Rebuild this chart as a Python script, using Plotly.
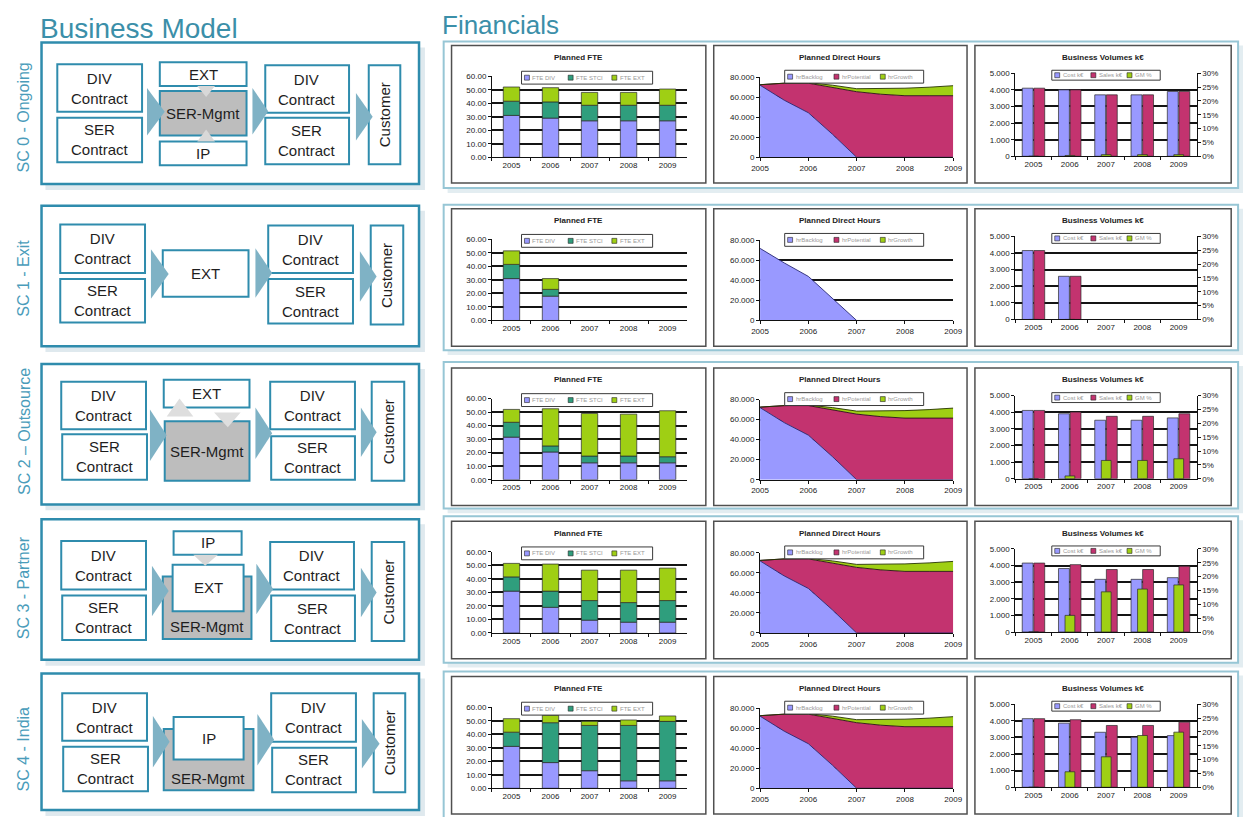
import numpy as np
import plotly.graph_objects as go

W, H = 1253, 817

# ---------------- DATA ----------------
YEARS = ['2005', '2006', '2007', '2008', '2009']
SCENARIOS = ['SC 0 - Ongoing', 'SC 1 - Exit', 'SC 2 \u2013 Outsource', 'SC 3 - Partner', 'SC 4 - India']

FTE_NAMES = ['FTE DIV', 'FTE STCI', 'FTE EXT']
FTE_DIV = [[31, 29, 27, 27, 27],
           [31, 18, None, None, None],
           [31.5, 20.5, 12.5, 12.5, 12.5],
           [31, 19, 9.5, 8, 8],
           [31, 19, 13, 5.5, 5.5]]
FTE_SER = [[10.5, 12, 11.5, 11.5, 11.5],
           [10.5, 5, None, None, None],
           [11, 4.5, 5, 5, 4.5],
           [10.5, 12, 14.5, 14.5, 16],
           [10.5, 29.5, 33.5, 41, 44]]
FTE_EXT = [[10.5, 10.5, 9.5, 9.5, 12],
           [10, 8, None, None, None],
           [9.5, 27.5, 31.5, 31, 34],
           [10, 20, 22.5, 24, 24],
           [10, 5.5, 3, 4, 4]]

HR_NAMES = ['hrBacklog', 'hrPotential', 'hrGrowth']
HR_X = [2005, 2005.5, 2006, 2006.5, 2007, 2007.5, 2008, 2008.5, 2009]
HR_BACKLOG = [72000, 57000, 44500, 23000, 0, 0, 0, 0, 0]
HR_POTENTIAL = [500, 17000, 29500, 47000, 65500, 63000, 61500, 61500, 61500]
HR_GROWTH = [0, 0, 500, 2000, 3000, 5500, 7500, 8500, 10000]
HR_BACKLOG_EXIT = [72000, 57500, 44000, 22000, 0, 0, 0, 0, 0]
HR_HAS_GROWTH = [True, False, True, True, True]

BV_NAMES = ['Cost k\u20ac', 'Sales k\u20ac', 'GM %']
COST = [[4100, 4000, 3700, 3700, 3900],
        [4150, 2600, None, None, None],
        [4110, 3910, 3520, 3520, 3660],
        [4150, 3820, 3170, 3170, 3270],
        [4130, 3860, 3310, 3010, 3110]]
SALES = [[4100, 4000, 3700, 3700, 3900],
         [4150, 2600, None, None, None],
         [4110, 4010, 3755, 3755, 3910],
         [4150, 4055, 3760, 3760, 3960],
         [4130, 4065, 3720, 3720, 3920]]
GM = [[0, 0.3, 0.6, 0.6, 0.6],
      [0, 0, None, None, None],
      [0, 1.0, 6.6, 6.6, 7.2],
      [0, 6.0, 14.5, 15.5, 17.0],
      [0, 5.6, 11.0, 18.7, 19.9]]

FTE_TICKS = [0, 10, 20, 30, 40, 50, 60]
FTE_GRID = [10, 20, 30, 40, 50]
HR_TICKS = [0, 20000, 40000, 60000, 80000]
HR_TICKTEXT = ['0', '20.000', '40.000', '60.000', '80.000']
HR_GRID = [20000, 40000, 60000]
BV_TICKS = [0, 1000, 2000, 3000, 4000, 5000]
BV_TICKTEXT = ['0', '1.000', '2.000', '3.000', '4.000', '5.000']
BV_GRID = [1000, 2000, 3000, 4000]
GM_TICKS = [0, 5, 10, 15, 20, 25, 30]
GM_TICKTEXT = ['0%', '5%', '10%', '15%', '20%', '25%', '30%']

# ---------------- STYLE ----------------
C_LAV = '#9999ff'
C_TEALG = '#2f9e7d'
C_LIME = '#9fcf14'
C_PINK = '#c3336f'
TEAL = '#2f8cad'
TITLE_C = '#3b8fa9'
ARROW_C = '#7fb2c5'
FONT = 'Liberation Sans, Arial, sans-serif'
TICK_FONT = dict(size=8, color='#1a1a1a', family=FONT)
GRID_STYLE = dict(showgrid=True, gridcolor='#141414', gridwidth=1.6, ticks='')


def px(x):
    return x / W


def py(y):
    return 1 - y / H


shapes = []
annotations = []


def rect(x0, y0, x1, y1, fill='white', lc=TEAL, lw=2, layer='above'):
    shapes.append(dict(type='rect', xref='paper', yref='paper',
                       x0=px(x0), x1=px(x1), y0=py(y1), y1=py(y0),
                       fillcolor=fill, layer=layer,
                       line=dict(color=lc, width=lw)))


def poly(pts, fill, lc=None, lw=0, layer='above'):
    d = 'M ' + ' L '.join(f'{px(a):.5f},{py(b):.5f}' for a, b in pts) + ' Z'
    shapes.append(dict(type='path', xref='paper', yref='paper', path=d,
                       fillcolor=fill, layer=layer,
                       line=dict(color=lc or fill, width=lw)))


def text(x, y, s, size=15, color='#1e1e1e', angle=0, xanchor='center', yanchor='middle'):
    annotations.append(dict(x=px(x), y=py(y), xref='paper', yref='paper', text=s,
                            showarrow=False, textangle=angle, xanchor=xanchor, yanchor=yanchor,
                            borderpad=0,
                            font=dict(size=size, color=color, family=FONT)))


def arrow(x0, y0, x1, y1):
    poly([(x0, y0), (x1, (y0 + y1) / 2), (x0, y1)], ARROW_C)


# ---------------- LEFT: BUSINESS MODEL ----------------
text(30, 25, 'Business Model', size=28, color=TITLE_C, xanchor='left')
text(438, 21, 'Financials', size=26, color=TITLE_C, xanchor='left')

LEFT_ROWS = [
    dict(outer=(33, 39, 416, 182), label_y=115,
         divl=(49, 61, 135, 109), serl=(49, 115, 135, 160),
         divr=(260, 62, 345, 110), serr=(260, 115, 345, 162), cust=(365, 62, 397, 162),
         arrows=[(140, 85, 158, 133), (247, 85, 263, 132), (352, 90, 369, 138)]),
    dict(outer=(33, 204, 416, 346), label_y=277,
         divl=(52, 223, 138, 272), serl=(52, 278, 138, 322),
         divr=(263, 224, 349, 272), serr=(263, 278, 349, 323), cust=(367, 224, 400, 324),
         arrows=[(144, 248, 162, 298), (250, 247, 267, 297), (356, 250, 373, 301)]),
    dict(outer=(33, 364, 416, 506), label_y=432,
         divl=(53, 382, 139, 430), serl=(54, 435, 140, 481),
         divr=(265, 382, 351, 430), serr=(266, 437, 351, 481), cust=(368, 382, 401, 482),
         arrows=[(143, 410, 160, 462), (250, 408, 267, 460), (357, 408, 373, 458)]),
    dict(outer=(33, 521, 416, 663), label_y=590,
         divl=(53, 543, 139, 592), serl=(54, 598, 139, 643),
         divr=(265, 544, 350, 592), serr=(266, 598, 351, 644), cust=(368, 544, 401, 644),
         arrows=[(145, 568, 162, 619), (251, 566, 268, 617), (357, 570, 373, 620)]),
    dict(outer=(33, 677, 416, 815), label_y=753,
         divl=(54, 697, 140, 745), serl=(55, 751, 141, 796),
         divr=(266, 697, 352, 746), serr=(267, 752, 352, 797), cust=(370, 697, 402, 797),
         arrows=[(146, 720, 163, 772), (252, 718, 269, 770), (358, 723, 376, 773)]),
]


def labeled_box(b, label, fill='white'):
    rect(*b, fill=fill)
    text((b[0] + b[2]) / 2, (b[1] + b[3]) / 2, label)


for i, row in enumerate(LEFT_ROWS):
    ox0, oy0, ox1, oy1 = row['outer']
    rect(ox0 + 4, oy0 + 5, ox1 + 6, oy1 + 6, fill='#dfe9ee', lc='#dfe9ee', lw=0)
    rect(ox0, oy0, ox1, oy1, fill='white', lc=TEAL, lw=2.5)
    text(15, row['label_y'], SCENARIOS[i], size=16, color='#4a9cba', angle=-90)
    labeled_box(row['divl'], 'DIV<br>Contract')
    labeled_box(row['serl'], 'SER<br>Contract')
    labeled_box(row['divr'], 'DIV<br>Contract')
    labeled_box(row['serr'], 'SER<br>Contract')
    cb = row['cust']
    rect(*cb)
    text((cb[0] + cb[2]) / 2, (cb[1] + cb[3]) / 2, 'Customer', angle=-90)

    if i == 0:
        labeled_box((153, 59, 241, 83), 'EXT')
        labeled_box((153, 88, 241, 133), 'SER-Mgmt', fill='#bdbdbd')
        labeled_box((153, 139, 241, 163), 'IP')
        poly([(191, 83), (209, 83), (200, 94)], '#d8d8d8')
        poly([(191, 139), (209, 139), (200, 127)], '#d8d8d8')
    elif i == 1:
        labeled_box((156, 249, 243, 296), 'EXT')
    elif i == 2:
        labeled_box((157, 380, 244, 408), 'EXT')
        labeled_box((158, 422, 244, 482), 'SER-Mgmt', fill='#bdbdbd')
        poly([(160, 417), (187, 417), (173, 399)], '#dedede')
        poly([(208, 413), (235, 413), (222, 428)], '#dedede')
    elif i == 3:
        rect(156, 579, 246, 642, fill='#bdbdbd')
        text(201, 629, 'SER-Mgmt')
        labeled_box((166, 567, 238, 614), 'EXT')
        labeled_box((167, 533, 236, 557), 'IP')
        poly([(187, 557), (212, 557), (199, 568)], '#d8d8d8')
    else:
        rect(157, 733, 248, 795, fill='#bdbdbd')
        text(202, 783, 'SER-Mgmt')
        labeled_box((167, 721, 238, 764), 'IP')

    for a in row['arrows']:
        arrow(*a)

# ---------------- RIGHT: FINANCIALS ----------------
ROW_FRAME = [(38, 186), (203, 350), (362, 510), (518, 666), (675, 832)]
ROW_TOP = [42, 207, 368, 523, 680]
CHART_H = 139
CHART_X = [(449, 707), (715, 972), (980, 1240)]
PLOT_X = [(490, 688), (762, 958), (1021, 1205)]
PLOT_Y = [(31, 113), (32, 113), (28, 112)]
TITLES = ['Planned FTE', 'Planned Direct Hours', 'Business Volumes k\u20ac']
LEG_X = [(71, 204), (72, 213), (78, 188)]
LEG_Y = [(26, 39), (25, 38), (25, 35)]
LEG_NAMES = [FTE_NAMES, HR_NAMES, BV_NAMES]
LEG_COLORS = [[C_LAV, C_TEALG, C_LIME], [C_LAV, C_PINK, C_LIME], [C_LAV, C_PINK, C_LIME]]

for r in range(5):
    f0, f1 = ROW_FRAME[r]
    rect(441 + 4, f0 + 4, 1247 + 5, f1 + 5, fill='#e3edf1', lc='#e3edf1', lw=0, layer='below')
    rect(441, f0, 1247, f1, fill='white', lc='#97c6d5', lw=2, layer='below')
    top = ROW_TOP[r]
    for c in range(3):
        cx0, cx1 = CHART_X[c]
        rect(cx0, top, cx1, top + CHART_H, fill='white', lc='#505050', lw=1.5, layer='below')

layout = dict(width=W, height=H, autosize=False,
              margin=dict(l=0, r=0, t=0, b=0),
              paper_bgcolor='white', plot_bgcolor='#c0c0c0',
              barmode='overlay', showlegend=False,
              font=dict(family=FONT, size=8, color='#111'))

axis_common = dict(showline=True, linecolor='#111', linewidth=1, ticks='outside', ticklen=3,
                   tickcolor='#111', tickfont=TICK_FONT,
                   zeroline=False, fixedrange=True)

traces = []
for r in range(5):
    top = ROW_TOP[r]
    for c in range(3):
        k = r * 3 + c + 1
        xname = 'xaxis' if k == 1 else f'xaxis{k}'
        yname = 'yaxis' if k == 1 else f'yaxis{k}'
        xref = 'x' if k == 1 else f'x{k}'
        yref = 'y' if k == 1 else f'y{k}'
        pl, pr = PLOT_X[c]
        pt, pb = top + PLOT_Y[c][0], top + PLOT_Y[c][1]
        xdom = [px(pl), px(pr)]
        ydom = [py(pb), py(pt)]
        xa = dict(axis_common, domain=xdom, anchor=yref, showgrid=False)
        ya = dict(axis_common, domain=ydom, anchor=xref, showgrid=False)

        if c == 0:
            xa.update(type='category', categoryorder='array', categoryarray=YEARS,
                      range=[-0.5, 4.5], tickson='boundaries')
            ya.update(range=[0, 60], tickvals=FTE_TICKS, tickformat='.2f',
                      minor=dict(GRID_STYLE, tickvals=FTE_GRID))
            div = np.array(FTE_DIV[r], dtype=float)
            ser = np.array(FTE_SER[r], dtype=float)
            ext = np.array(FTE_EXT[r], dtype=float)
            for vals, base, col, nm in [(div, np.zeros(5), C_LAV, FTE_NAMES[0]),
                                        (ser, div, C_TEALG, FTE_NAMES[1]),
                                        (ext, div + ser, C_LIME, FTE_NAMES[2])]:
                traces.append(go.Bar(x=YEARS, y=vals, base=base, name=nm, width=0.42,
                                     marker=dict(color=col, line=dict(color='#2a2a2a', width=0.7)),
                                     xaxis=xref, yaxis=yref, showlegend=False))
        elif c == 1:
            xa.update(type='linear', range=[2005, 2009], tickvals=[2005, 2006, 2007, 2008, 2009],
                      ticktext=YEARS)
            ya.update(range=[0, 80000], tickvals=HR_TICKS, ticktext=HR_TICKTEXT,
                      minor=dict(GRID_STYLE, tickvals=HR_GRID))
            sg = f'hr{r}'
            if HR_HAS_GROWTH[r]:
                series = [(HR_BACKLOG, C_LAV, '#262673', HR_NAMES[0]),
                          (HR_POTENTIAL, C_PINK, '#2a0a18', HR_NAMES[1]),
                          (HR_GROWTH, C_LIME, '#263300', HR_NAMES[2])]
            else:
                series = [(HR_BACKLOG_EXIT, C_LAV, '#262673', HR_NAMES[0])]
            for vals, col, lcol, nm in series:
                traces.append(go.Scatter(x=HR_X, y=vals, stackgroup=sg, mode='lines', name=nm,
                                         fillcolor=col, line=dict(color=lcol, width=0.9),
                                         xaxis=xref, yaxis=yref, showlegend=False))
        else:
            k2 = 16 + r
            y2name = f'yaxis{k2}'
            y2ref = f'y{k2}'
            xa.update(type='category', categoryorder='array', categoryarray=YEARS,
                      range=[-0.5, 4.5], tickson='boundaries')
            ya.update(range=[0, 5000], tickvals=BV_TICKS, ticktext=BV_TICKTEXT,
                      minor=dict(GRID_STYLE, tickvals=BV_GRID))
            y2 = dict(axis_common, overlaying=yref, anchor=xref, side='right', range=[0, 30],
                      tickvals=GM_TICKS, ticktext=GM_TICKTEXT, showgrid=False)
            layout[y2name] = y2
            traces.append(go.Bar(x=YEARS, y=COST[r], name=BV_NAMES[0], width=0.3, offset=-0.31,
                                 marker=dict(color=C_LAV, line=dict(color='#2a2a2a', width=0.7)),
                                 xaxis=xref, yaxis=yref, showlegend=False))
            traces.append(go.Bar(x=YEARS, y=SALES[r], name=BV_NAMES[1], width=0.3, offset=0.01,
                                 marker=dict(color=C_PINK, line=dict(color='#2a2a2a', width=0.7)),
                                 xaxis=xref, yaxis=yref, showlegend=False))
            traces.append(go.Bar(x=YEARS, y=GM[r], name=BV_NAMES[2], width=0.27, offset=-0.13,
                                 marker=dict(color=C_LIME, line=dict(color='#2a2a2a', width=0.7)),
                                 xaxis=xref, yaxis=y2ref, showlegend=False))
        layout[xname] = xa
        layout[yname] = ya

        # chart title
        cx0, cx1 = CHART_X[c]
        text((cx0 + cx1) / 2, top + 12, f'<b>{TITLES[c]}</b>', size=8, color='#222')

        # mini legend
        lx0, lx1 = cx0 + LEG_X[c][0], cx0 + LEG_X[c][1]
        ly0, ly1 = top + LEG_Y[c][0], top + LEG_Y[c][1]
        rect(lx0, ly0, lx1, ly1, fill='white', lc='#3a3a3a', lw=1)
        iw = (lx1 - lx0) / 3
        cy = (ly0 + ly1) / 2
        for j in range(3):
            sx = lx0 + 3 + j * iw
            rect(sx, cy - 2.5, sx + 5, cy + 2.5, fill=LEG_COLORS[c][j], lc='#222', lw=0.6)
            text(sx + 7, cy, LEG_NAMES[c][j], size=6, color='#9a9a9a', xanchor='left')

layout['shapes'] = shapes
layout['annotations'] = annotations

fig = go.Figure(data=traces, layout=layout)
fig.write_html('out.html',
               post_script="document.body.style.margin='0';document.body.style.padding='0';"
                           "document.body.style.overflow='hidden';")
